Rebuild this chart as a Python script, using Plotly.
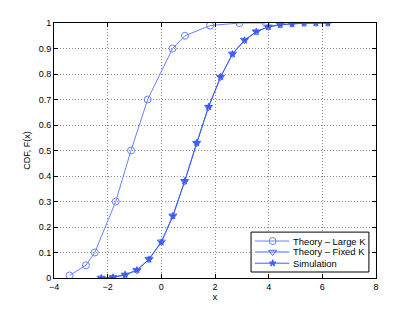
import plotly.graph_objects as go

# Theory - Large K
large_x = [-3.42, -2.81, -2.48, -1.70, -1.13, -0.51, 0.42, 0.88, 1.82, 2.91, 3.89]
large_y = [0.01, 0.05, 0.10, 0.30, 0.50, 0.70, 0.90, 0.95, 0.99, 1.0, 1.0]

# Theory - Fixed K
fixed_x = [-2.24, -1.80, -1.35, -0.91, -0.46, 0.0, 0.43, 0.87, 1.32, 1.76,
           2.21, 2.65, 3.10, 3.54, 3.99, 4.43, 4.87, 5.32, 5.76, 6.21]
fixed_y = [0.0, 0.002, 0.012, 0.030, 0.074, 0.142, 0.244, 0.379, 0.529, 0.670,
           0.788, 0.879, 0.933, 0.966, 0.985, 0.993, 0.997, 0.999, 1.0, 1.0]

# Simulation
sim_x = fixed_x
sim_y = [0.0, 0.003, 0.013, 0.031, 0.073, 0.140, 0.243, 0.380, 0.530, 0.672,
         0.789, 0.878, 0.932, 0.966, 0.985, 0.993, 0.997, 0.999, 1.0, 1.0]

series_names = ["Theory \u2013 Large K", "Theory \u2013 Fixed K", "Simulation"]

x_ticks = [-4, -2, 0, 2, 4, 6, 8]
y_ticks = [0, 0.1, 0.2, 0.3, 0.4, 0.5, 0.6, 0.7, 0.8, 0.9, 1]
y_tick_text = ["0", "0.1", "0.2", "0.3", "0.4", "0.5", "0.6", "0.7", "0.8", "0.9", "1"]

font = "Liberation Sans, Arial, Helvetica, sans-serif"
c_large = "#6a80ff"
c_fixed = "#4a66ff"
c_sim = "#3d5cff"

styles = [
    dict(color=c_large, symbol="circle-open", size=7),
    dict(color=c_fixed, symbol="triangle-down-open", size=7),
    dict(color=c_sim, symbol="star", size=5),
]
data = [(large_x, large_y), (fixed_x, fixed_y), (sim_x, sim_y)]

fig = go.Figure()
for (xs, ys), name, st in zip(data, series_names, styles):
    fig.add_trace(go.Scatter(
        x=xs, y=ys, mode="lines+markers", name=name, showlegend=False,
        line=dict(color=st["color"], width=1),
        marker=dict(symbol=st["symbol"], size=st["size"], color=st["color"],
                    line=dict(width=1, color=st["color"])),
    ))

# Custom legend (MATLAB-like compact box) drawn on an overlay axis in [0,1]
leg_x0, leg_x1, leg_y0, leg_y1 = 0.612, 0.978, 0.0235, 0.180
leg_rows = [0.145, 0.102, 0.058]
leg_line_x = [0.624, 0.731]
leg_mark_x = 0.679
leg_text_x = 0.737

fig.add_trace(go.Scatter(
    x=[leg_x0, leg_x1, leg_x1, leg_x0, leg_x0],
    y=[leg_y0, leg_y0, leg_y1, leg_y1, leg_y0],
    mode="lines", fill="toself", fillcolor="white",
    line=dict(color="black", width=1), xaxis="x2", yaxis="y2",
    showlegend=False, hoverinfo="skip",
))
for name, st, ry in zip(series_names, styles, leg_rows):
    fig.add_trace(go.Scatter(
        x=leg_line_x, y=[ry, ry], mode="lines", xaxis="x2", yaxis="y2",
        showlegend=False, hoverinfo="skip",
        line=dict(color=st["color"], width=1),
    ))
    fig.add_trace(go.Scatter(
        x=[leg_mark_x], y=[ry], mode="markers", xaxis="x2", yaxis="y2",
        showlegend=False, hoverinfo="skip",
        marker=dict(symbol=st["symbol"], size=st["size"], color=st["color"],
                    line=dict(width=1, color=st["color"])),
    ))
    fig.add_annotation(x=leg_text_x, y=ry, xref="paper", yref="paper",
                       text=name, showarrow=False, xanchor="left", yanchor="middle",
                       font=dict(family=font, size=9.4, color="black"))

axis_common = dict(
    showline=True, linecolor="black", linewidth=1, mirror="ticks",
    ticks="inside", ticklen=4, tickcolor="black",
    showgrid=True, gridcolor="#8a8a8a", griddash="1px,2px", gridwidth=1,
    zeroline=False, tickfont=dict(family=font, size=9, color="black"),
    automargin=False,
)

# The page body has an 8px margin, so the figure is sized/offset to compensate
fig.update_layout(
    width=407, height=304,
    margin=dict(l=46, r=39, t=15, b=34),
    paper_bgcolor="white", plot_bgcolor="white",
    font=dict(family=font, size=9, color="black"),
    showlegend=False,
    xaxis2=dict(overlaying="x", range=[0, 1], visible=False, fixedrange=True),
    yaxis2=dict(overlaying="y", range=[0, 1], visible=False, fixedrange=True),
    xaxis=dict(range=[-4, 8], tickvals=x_ticks,
               title=dict(text="x", font=dict(family=font, size=9), standoff=2),
               **axis_common),
    yaxis=dict(range=[0, 1], tickvals=y_ticks, ticktext=y_tick_text,
               title=dict(text="CDF, F(x)", font=dict(family=font, size=9), standoff=6),
               **axis_common),
)

fig.write_html("out.html")
